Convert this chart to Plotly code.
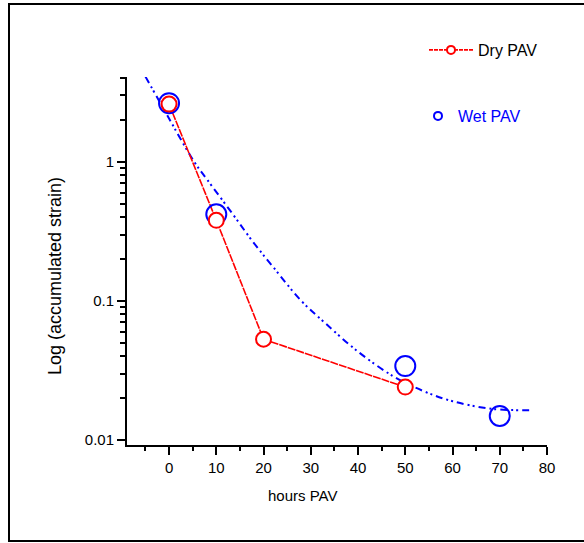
import plotly.graph_objects as go

# ---- data ----
dry_hours = [0, 10, 20, 50]
dry_strain = [2.6, 0.38, 0.053, 0.024]

wet_hours = [0, 10, 50, 70]
wet_strain = [2.64, 0.42, 0.034, 0.0149]

fit_hours = [-5, 0, 2.3, 5.5, 8, 13.5, 17.8, 22, 28, 33, 39.8, 47.4, 53.8, 60, 68.6, 77]
fit_strain = [4.1, 2.05, 1.49, 0.98, 0.75, 0.42, 0.265, 0.176, 0.1, 0.0695, 0.0437,
              0.0288, 0.0225, 0.019, 0.0167, 0.0164]

x_major = [0, 10, 20, 30, 40, 50, 60, 70, 80]
x_minor = [-5, 5, 15, 25, 35, 45, 55, 65, 75]
y_major = [0.01, 0.1, 1]
y_major_text = ["0.01", "0.1", "1"]
y_minor = [0.02, 0.03, 0.04, 0.05, 0.06, 0.07, 0.08, 0.09,
           0.2, 0.3, 0.4, 0.5, 0.6, 0.7, 0.8, 0.9, 2, 3, 4]

FONT = "Liberation Sans, Arial, sans-serif"
RED = "#ff0000"
BLUE = "#0000ff"

W, H = 584, 543
L, R, T, B = 127, 37, 77, 98
PW, PH = W - L - R, H - T - B

def px_x(p):
    return (p - L) / PW

def px_y(p):
    return (H - B - p) / PH

fig = go.Figure()

# fitted wet curve
fig.add_trace(go.Scatter(
    x=fit_hours, y=fit_strain, mode="lines", line_shape="spline",
    line=dict(color=BLUE, width=2, dash="7px,4px,2px,3px,2px,4px"),
    showlegend=False, hoverinfo="skip"))

# dry line
fig.add_trace(go.Scatter(
    x=dry_hours, y=dry_strain, mode="lines",
    line=dict(color=RED, width=1.6, dash="8px,1px"),
    showlegend=False))

# wet markers
fig.add_trace(go.Scatter(
    x=wet_hours, y=wet_strain, mode="markers",
    marker=dict(symbol="circle", size=20, color="rgba(255,255,255,0)",
                line=dict(color=BLUE, width=2)),
    showlegend=False))

# dry markers
fig.add_trace(go.Scatter(
    x=dry_hours, y=dry_strain, mode="markers",
    marker=dict(symbol="circle", size=15, color="white",
                line=dict(color=RED, width=2)),
    showlegend=False))

# legend entries
fig.add_trace(go.Scatter(
    x=[None], y=[None], mode="lines+markers", name="Dry PAV",
    line=dict(color=RED, width=1.8, dash="4px,1px"),
    marker=dict(symbol="circle", size=8, color="white", line=dict(color=RED, width=2)),
    legend="legend"))
fig.add_trace(go.Scatter(
    x=[None], y=[None], mode="markers",
    name="<span style='color:#0000ff'>Wet PAV</span>",
    marker=dict(symbol="circle", size=8, color="white", line=dict(color=BLUE, width=2)),
    legend="legend2"))

border = dict(color="black", width=2)

fig.update_layout(
    width=W, height=H,
    margin=dict(l=L, r=R, t=T, b=B),
    paper_bgcolor="white", plot_bgcolor="white",
    font=dict(family=FONT, size=14, color="black"),
    legend=dict(x=px_x(424), y=px_y(50), xanchor="left", yanchor="middle",
                itemwidth=44, bgcolor="rgba(0,0,0,0)", font=dict(size=16, color="black")),
    legend2=dict(x=px_x(418), y=px_y(116), xanchor="left", yanchor="middle",
                 bgcolor="rgba(0,0,0,0)", font=dict(size=16, color=BLUE)),
    xaxis=dict(
        range=[-8.9, 80], showgrid=False, zeroline=False,
        showline=True, linewidth=2, linecolor="black",
        tickmode="array", tickvals=x_major, ticks="outside", ticklen=8,
        tickwidth=2, tickcolor="black", tickfont=dict(size=15),
        minor=dict(tickmode="array", tickvals=x_minor, ticks="outside",
                   ticklen=4, tickwidth=2, tickcolor="black"),
    ),
    yaxis=dict(
        type="log", range=[-2.036, 0.61], showgrid=False, zeroline=False,
        showline=True, linewidth=2, linecolor="black",
        tickmode="array", tickvals=y_major, ticktext=y_major_text,
        ticks="outside", ticklen=8, tickwidth=2, tickcolor="black",
        tickfont=dict(size=15),
        minor=dict(tickmode="array", tickvals=y_minor, ticks="outside",
                   ticklen=5, tickwidth=2, tickcolor="black"),
    ),
    annotations=[
        dict(text="hours PAV", x=px_x(302), y=px_y(495), xref="paper", yref="paper",
             showarrow=False, font=dict(size=15), xanchor="center", yanchor="middle"),
        dict(text="Log (accumulated strain)", x=px_x(55), y=px_y(276), xref="paper",
             yref="paper", showarrow=False, textangle=-90, font=dict(size=18),
             xanchor="center", yanchor="middle"),
    ],
    shapes=[
        dict(type="line", xref="paper", yref="paper", x0=px_x(9), x1=px_x(584),
             y0=px_y(4), y1=px_y(4), line=border, layer="above"),
        dict(type="line", xref="paper", yref="paper", x0=px_x(9), x1=px_x(9),
             y0=px_y(3), y1=px_y(542), line=border, layer="above"),
        dict(type="line", xref="paper", yref="paper", x0=px_x(9), x1=px_x(584),
             y0=px_y(541), y1=px_y(541), line=border, layer="above"),
    ],
)

fig.write_html(
    "out.html",
    config={"displayModeBar": False},
    post_script=("document.body.style.margin='0';"
                 "document.documentElement.style.overflow='hidden';"
                 "document.body.style.overflow='hidden';"
                 "var tb=document.createElement('div');"
                 "tb.style.cssText='position:absolute;left:8px;top:3px;width:580px;"
                 "height:2px;background:#000;pointer-events:none;z-index:10;';"
                 "document.body.appendChild(tb);"),
)
